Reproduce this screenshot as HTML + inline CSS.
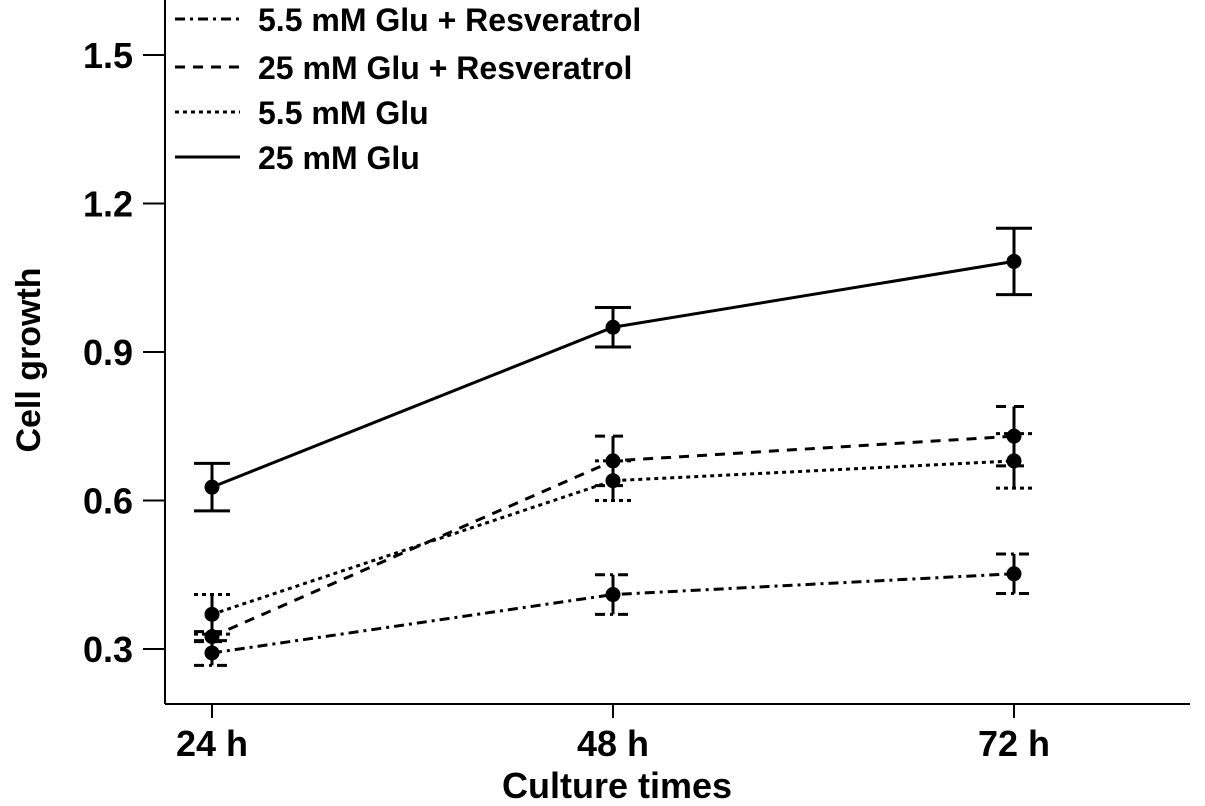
<!DOCTYPE html>
<html><head><meta charset="utf-8"><style>
html,body{margin:0;padding:0;background:#fff;}
svg{display:block;font-family:"Liberation Sans",Arial,sans-serif;}
</style></head><body>
<svg id="chart" width="1205" height="806">
<g id="axes"></g><g id="series"></g>
<g id="legend">
 <g><line x1="175" y1="19" x2="240" y2="19" stroke="#000" stroke-width="3" stroke-dasharray="10,5,3,5"/><text x="258" y="31" font-size="32" font-weight="bold">5.5 mM Glu + Resveratrol</text></g>
 <g><line x1="175" y1="67" x2="240" y2="67" stroke="#000" stroke-width="3" stroke-dasharray="10,8"/><text x="258" y="79" font-size="32" font-weight="bold">25 mM Glu + Resveratrol</text></g>
 <g><line x1="175" y1="112" x2="240" y2="112" stroke="#000" stroke-width="3" stroke-dasharray="4,4"/><text x="258" y="124" font-size="32" font-weight="bold">5.5 mM Glu</text></g>
 <g><line x1="175" y1="157" x2="240" y2="157" stroke="#000" stroke-width="3"/><text x="258" y="169" font-size="32" font-weight="bold">25 mM Glu</text></g>
</g>
</svg>
<script>
const categories=["24 h","48 h","72 h"];
const yTicks=[0.3,0.6,0.9,1.2,1.5];
const s25=[0.627,0.95,1.083], s25Err=[0.048,0.04,0.067];
const s55=[0.37,0.64,0.68], s55Err=[0.04,0.04,0.055];
const s25R=[0.325,0.68,0.73], s25RErr=[0.01,0.05,0.06];
const s55R=[0.292,0.41,0.452], s55RErr=[0.025,0.04,0.04];
const NS="http://www.w3.org/2000/svg";
const X0=165,Y0=704,XR=1190;
function x(i){return 212+i*401;}
function y(v){return 649-(v-0.3)*495;}
function mk(tag,attrs,parent){const e=document.createElementNS(NS,tag);for(const k in attrs)e.setAttribute(k,attrs[k]);parent.appendChild(e);return e;}
const ax=document.getElementById('axes');
let l=mk('line',{x1:X0,y1:0,x2:X0,y2:Y0,stroke:'#000','stroke-width':2},ax);


l=mk('line',{x1:X0,y1:Y0,x2:XR,y2:Y0,stroke:'#000','stroke-width':2},ax);


yTicks.forEach(v=>{
 mk('line',{x1:X0-22,y1:y(v),x2:X0,y2:y(v),stroke:'#000','stroke-width':2},ax);
 const t=mk('text',{x:X0-32,y:y(v)+13,'font-size':36,'font-weight':'bold','text-anchor':'end'},ax);
 t.textContent=v.toFixed(1);
 
 
});
categories.forEach((c,i)=>{
 mk('line',{x1:x(i),y1:Y0,x2:x(i),y2:Y0+14,stroke:'#000','stroke-width':2},ax);
 const t=mk('text',{x:x(i),y:Y0+52,'font-size':36,'font-weight':'bold','text-anchor':'middle'},ax);
 t.textContent=c;
 
 
});
let t=mk('text',{x:617,y:798,'font-size':36,'font-weight':'bold','text-anchor':'middle','xml:space':'preserve'},ax);
t.textContent="Culture  times";


t=mk('text',{x:0,y:0,'font-size':34,'font-weight':'bold','text-anchor':'middle',transform:'translate(40,360) rotate(-90)'},ax);
t.textContent="Cell growth";


const sg=document.getElementById('series');
function series(vals,errs,dash,name){
 const g=mk('g',{},sg);
 
 
 mk('polyline',{points:vals.map((v,i)=>x(i)+','+y(v)).join(' '),fill:'none',stroke:'#000','stroke-width':3,'stroke-dasharray':dash},g);
 vals.forEach((v,i)=>{
  const hi=y(v+errs[i]),lo=y(v-errs[i]);
  mk('line',{x1:x(i),y1:hi,x2:x(i),y2:lo,stroke:'#000','stroke-width':3},g);
  mk('line',{x1:x(i)-18,y1:hi,x2:x(i)+18,y2:hi,stroke:'#000','stroke-width':3,'stroke-dasharray':dash},g);
  mk('line',{x1:x(i)-18,y1:lo,x2:x(i)+18,y2:lo,stroke:'#000','stroke-width':3,'stroke-dasharray':dash},g);
  const c=mk('circle',{cx:x(i),cy:y(v),r:7.5,fill:'#000'},g);
  
  
 });
}
series(s25,s25Err,'none','series-25mm-glu');
series(s55,s55Err,'4,4','series-5-5mm-glu');
series(s25R,s25RErr,'10,8','series-25mm-glu-resveratrol');
series(s55R,s55RErr,'10,5,3,5','series-5-5mm-glu-resveratrol');
</script>
</body></html>
